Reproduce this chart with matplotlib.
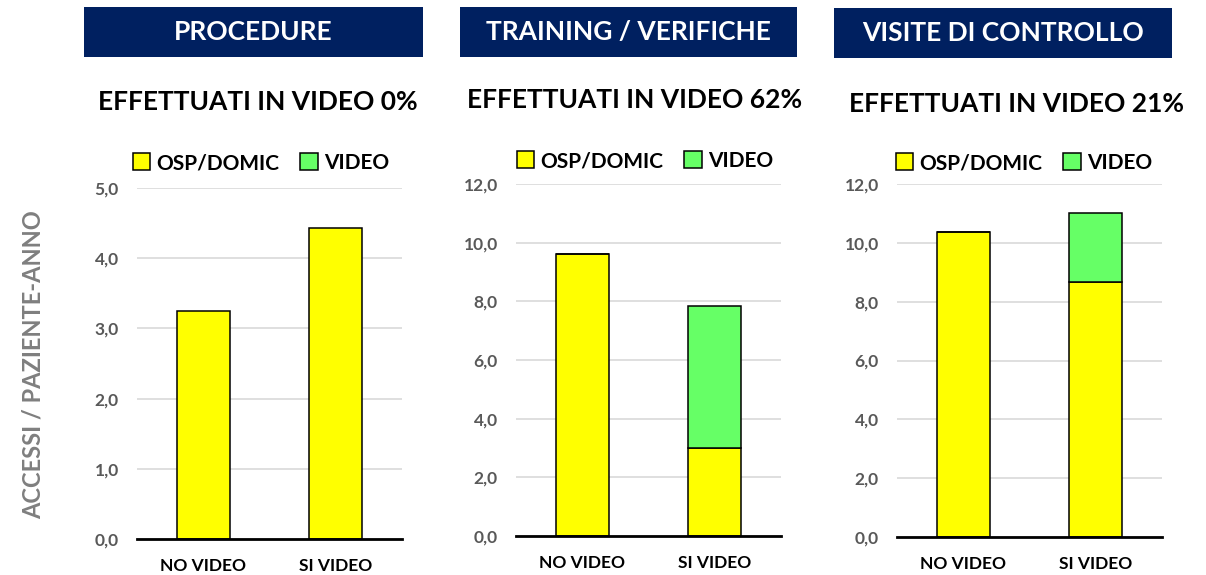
import matplotlib
matplotlib.use("Agg")
import matplotlib.pyplot as plt
import matplotlib.patches as mpatches

W, H = 1206, 575

panels = ["PROCEDURE", "TRAINING / VERIFICHE", "VISITE DI CONTROLLO"]
video_pct = [0, 62, 21]
categories = ["NO VIDEO", "SI VIDEO"]
osp_domic = [[3.25, 4.43], [9.61, 3.0], [10.36, 8.68]]
video = [[0.0, 0.0], [0.0, 4.85], [0.0, 2.32]]
y_max = [5.0, 12.0, 12.0]
y_step = [1.0, 2.0, 2.0]

YELLOW = "#FFFF00"
GREEN = "#66FF66"
NAVY = "#002060"
FONT = "Lato"

# pixel layout: (left, right, top of axis, bottom of axis)
axes_px = [(137, 402, 188, 539), (516, 781, 184, 536), (897, 1162, 184, 537)]
header_px = [(84, 423, 7, 57), (460, 797, 7, 57), (834, 1172, 8, 58)]
subtitle_px = [(258, 102), (635, 100), (1016, 104)]
legend_px = [(261, 163), (645, 161), (1024, 163)]

fig = plt.figure(figsize=(W / 100, H / 100), dpi=100)
fig.patch.set_facecolor("white")


def fx(x):
    return x / W


def fy(y):
    return 1 - y / H


for i in range(3):
    l, r, t, b = axes_px[i]
    ax = fig.add_axes([fx(l), fy(b), (r - l) / W, (b - t) / H])
    x = range(len(categories))
    ax.bar(x, osp_domic[i], width=0.4, color=YELLOW, edgecolor="black",
           linewidth=1.1, zorder=3)
    if any(v > 0 for v in video[i]):
        ax.bar(x, video[i], width=0.4, bottom=osp_domic[i], color=GREEN,
               edgecolor="black", linewidth=1.1, zorder=3)
    ax.set_xlim(-0.5, 1.5)
    ax.set_ylim(0, y_max[i])
    n = int(round(y_max[i] / y_step[i]))
    ticks = [k * y_step[i] for k in range(n + 1)]
    ax.set_yticks(ticks)
    ax.set_yticklabels([f"{t:.1f}".replace(".", ",") for t in ticks],
                       fontsize=12.5, fontweight="bold", color="#595959",
                       family=FONT)
    ax.set_xticks(list(x))
    ax.set_xticklabels(categories, fontsize=12.5, fontweight="bold",
                       color="black", family=FONT)
    ax.tick_params(axis="both", length=0)
    ax.tick_params(axis="y", pad=13)
    ax.tick_params(axis="x", pad=14)
    for s in ["left", "right", "top"]:
        ax.spines[s].set_visible(False)
    ax.spines["bottom"].set_linewidth(2)
    ax.spines["bottom"].set_zorder(4)
    ax.grid(axis="y", color="#d9d9d9", linewidth=1.2, zorder=0)
    ax.set_axisbelow(True)
    ax.patch.set_alpha(0)

    # header box
    hl, hr, ht, hb = header_px[i]
    fig.patches.append(mpatches.Rectangle((fx(hl), fy(hb)), (hr - hl) / W,
                                          (hb - ht) / H, transform=fig.transFigure,
                                          facecolor=NAVY, edgecolor="none"))
    fig.text(fx((hl + hr) / 2), fy((ht + hb) / 2), panels[i], ha="center",
             va="center", color="white", fontsize=19, fontweight="bold",
             family=FONT)

    sx, sy = subtitle_px[i]
    fig.text(fx(sx), fy(sy), f"EFFETTUATI IN VIDEO {video_pct[i]}%",
             ha="center", va="center", fontsize=19, fontweight="bold",
             color="black", family=FONT)

    handles = [mpatches.Patch(facecolor=YELLOW, edgecolor="black", linewidth=1.1,
                              label="OSP/DOMIC"),
               mpatches.Patch(facecolor=GREEN, edgecolor="black", linewidth=1.1,
                              label="VIDEO")]
    lx, ly = legend_px[i]
    fig.legend(handles=handles, loc="center", bbox_to_anchor=(fx(lx), fy(ly)),
               ncol=2, frameon=False, handlelength=0.85, handleheight=0.85,
               handletextpad=0.3, columnspacing=1.0,
               prop={"family": FONT, "weight": "bold", "size": 15})

fig.text(fx(33), fy(365), "ACCESSI / PAZIENTE-ANNO", rotation=90, ha="center",
         va="center", fontsize=17, fontweight="bold", color="#7f7f7f",
         family=FONT)

plt.savefig("out.png", dpi=100)
